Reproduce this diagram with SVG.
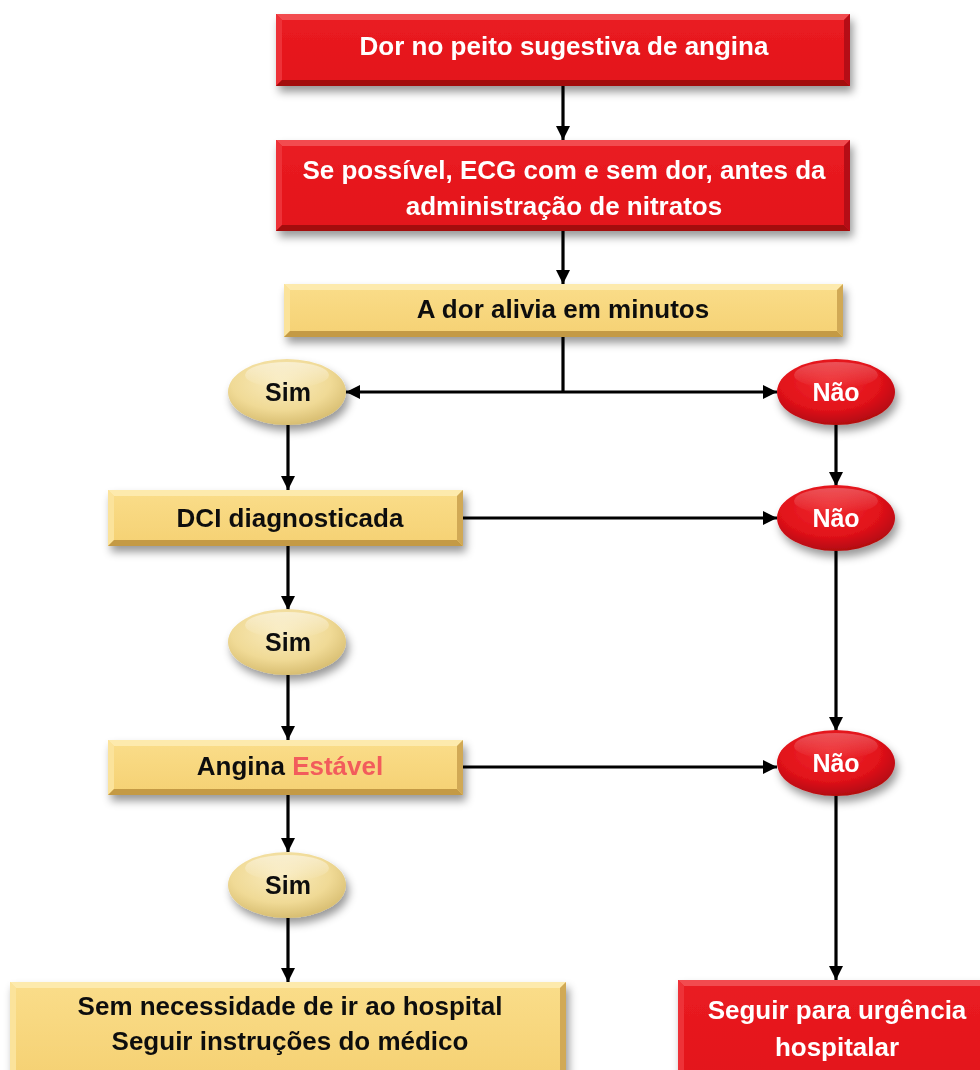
<svg xmlns="http://www.w3.org/2000/svg" width="980" height="1070" viewBox="0 0 980 1070">
  <defs>
    <style>
      .txt { font-family: "Liberation Sans", Arial, sans-serif; font-weight: bold; text-anchor: middle; dominant-baseline: central; }
      .w { fill: #ffffff; font-size: 26px; }
      .k { fill: #111111; font-size: 26px; }
      .ek { fill: #111111; font-size: 25px; }
      .ew { fill: #ffffff; font-size: 25px; }
      .hl { fill: #f25c5c; }
      .red-face { fill: url(#redFace); }
      .red-top { fill: #f24b50; }
      .red-left { fill: #ee3237; }
      .red-bot { fill: #a30a0e; }
      .red-right { fill: #b50d12; }
      .yel-face { fill: url(#yelFace); }
      .yel-top { fill: #fdeaad; }
      .yel-left { fill: #fbe39b; }
      .yel-bot { fill: #c49a45; }
      .yel-right { fill: #d1a954; }
      .conn line { stroke: #000; stroke-width: 3.2; fill: none; }
      .arr { marker-end: url(#head); }
    </style>
    <linearGradient id="redFace" x1="0" y1="0" x2="0" y2="1">
      <stop offset="0" stop-color="#ea1c22"/>
      <stop offset="1" stop-color="#e3141a"/>
    </linearGradient>
    <linearGradient id="yelFace" x1="0" y1="0" x2="0" y2="1">
      <stop offset="0" stop-color="#fadd8a"/>
      <stop offset="1" stop-color="#f5d173"/>
    </linearGradient>
    <radialGradient id="simFill" cx="0.45" cy="0.35" r="0.7">
      <stop offset="0" stop-color="#f9ebbd"/>
      <stop offset="0.6" stop-color="#f0da96"/>
      <stop offset="1" stop-color="#d3b86a"/>
    </radialGradient>
    <radialGradient id="naoFill" cx="0.45" cy="0.35" r="0.7">
      <stop offset="0" stop-color="#ef2a2e"/>
      <stop offset="0.6" stop-color="#e2121a"/>
      <stop offset="1" stop-color="#a80a0e"/>
    </radialGradient>
    <linearGradient id="gloss" x1="0" y1="0" x2="0" y2="1">
      <stop offset="0" stop-color="#ffffff" stop-opacity="0.5"/>
      <stop offset="1" stop-color="#ffffff" stop-opacity="0"/>
    </linearGradient>
    <filter id="shadow" x="-10%" y="-20%" width="125%" height="160%">
      <feDropShadow dx="3" dy="6" stdDeviation="4" flood-color="#000" flood-opacity="0.4"/>
    </filter>
    <marker id="head" viewBox="0 0 14 14" refX="14" refY="7" markerWidth="14" markerHeight="14" markerUnits="userSpaceOnUse" orient="auto">
      <path d="M0,0 L14,7 L0,14 Z" fill="#000"/>
    </marker>
  </defs>

  <rect width="980" height="1070" fill="#ffffff"/>

  <!-- connectors -->
  <g id="connectors" class="conn">
    <line class="arr" x1="563" y1="86" x2="563" y2="140"/>
    <line class="arr" x1="563" y1="231" x2="563" y2="284"/>
    <line x1="563" y1="337" x2="563" y2="392"/>
    <line class="arr" x1="563" y1="392" x2="346" y2="392"/>
    <line class="arr" x1="563" y1="392" x2="777" y2="392"/>
    <line class="arr" x1="288" y1="425" x2="288" y2="490"/>
    <line class="arr" x1="836" y1="425" x2="836" y2="486"/>
    <line class="arr" x1="463" y1="518" x2="777" y2="518"/>
    <line class="arr" x1="288" y1="546" x2="288" y2="610"/>
    <line class="arr" x1="288" y1="675" x2="288" y2="740"/>
    <line class="arr" x1="836" y1="551" x2="836" y2="731"/>
    <line class="arr" x1="463" y1="767" x2="777" y2="767"/>
    <line class="arr" x1="288" y1="795" x2="288" y2="852"/>
    <line class="arr" x1="288" y1="918" x2="288" y2="982"/>
    <line class="arr" x1="836" y1="796" x2="836" y2="980"/>
  </g>

  <!-- red box: chest pain -->
  <g id="n-dor" filter="url(#shadow)">
    <rect class="red-face" x="276" y="14" width="574" height="72"/>
    <polygon class="red-top" points="276,14 850,14 844,20 282,20"/>
    <polygon class="red-left" points="276,14 282,20 282,80 276,86"/>
    <polygon class="red-bot" points="276,86 282,80 844,80 850,86"/>
    <polygon class="red-right" points="850,14 850,86 844,80 844,20"/>
    <text class="txt w" x="564" y="46">Dor no peito sugestiva de angina</text>
  </g>

  <!-- red box: ECG -->
  <g id="n-ecg" filter="url(#shadow)">
    <rect class="red-face" x="276" y="140" width="574" height="91"/>
    <polygon class="red-top" points="276,140 850,140 844,146 282,146"/>
    <polygon class="red-left" points="276,140 282,146 282,225 276,231"/>
    <polygon class="red-bot" points="276,231 282,225 844,225 850,231"/>
    <polygon class="red-right" points="850,140 850,231 844,225 844,146"/>
    <text class="txt w" x="564" y="170">Se possível, ECG com e sem dor, antes da</text>
    <text class="txt w" x="564" y="206">administração de nitratos</text>
  </g>

  <!-- yellow box: relief -->
  <g id="n-alivia" filter="url(#shadow)">
    <rect class="yel-face" x="284" y="284" width="559" height="53"/>
    <polygon class="yel-top" points="284,284 843,284 837,290 290,290"/>
    <polygon class="yel-left" points="284,284 290,290 290,331 284,337"/>
    <polygon class="yel-bot" points="284,337 290,331 837,331 843,337"/>
    <polygon class="yel-right" points="843,284 843,337 837,331 837,290"/>
    <text class="txt k" x="563" y="309">A dor alivia em minutos</text>
  </g>

  <!-- decision ovals -->
  <g id="n-sim1" filter="url(#shadow)">
    <ellipse cx="287" cy="392" rx="59" ry="33" fill="url(#simFill)"/>
    <ellipse cx="287" cy="375" rx="42" ry="13" fill="url(#gloss)"/>
    <text class="txt ek" x="288" y="392">Sim</text>
  </g>
  <g id="n-nao1" filter="url(#shadow)">
    <ellipse cx="836" cy="392" rx="59" ry="33" fill="url(#naoFill)"/>
    <ellipse cx="836" cy="375" rx="42" ry="13" fill="url(#gloss)" opacity="0.5"/>
    <text class="txt ew" x="836" y="392">Não</text>
  </g>

  <!-- yellow box: known CAD -->
  <g id="n-dci" filter="url(#shadow)">
    <rect class="yel-face" x="108" y="490" width="355" height="56"/>
    <polygon class="yel-top" points="108,490 463,490 457,496 114,496"/>
    <polygon class="yel-left" points="108,490 114,496 114,540 108,546"/>
    <polygon class="yel-bot" points="108,546 114,540 457,540 463,546"/>
    <polygon class="yel-right" points="463,490 463,546 457,540 457,496"/>
    <text class="txt k" x="290" y="518">DCI diagnosticada</text>
  </g>

  <g id="n-nao2" filter="url(#shadow)">
    <ellipse cx="836" cy="518" rx="59" ry="33" fill="url(#naoFill)"/>
    <ellipse cx="836" cy="501" rx="42" ry="13" fill="url(#gloss)" opacity="0.5"/>
    <text class="txt ew" x="836" y="518">Não</text>
  </g>

  <g id="n-sim2" filter="url(#shadow)">
    <ellipse cx="287" cy="642" rx="59" ry="33" fill="url(#simFill)"/>
    <ellipse cx="287" cy="625" rx="42" ry="13" fill="url(#gloss)"/>
    <text class="txt ek" x="288" y="642">Sim</text>
  </g>

  <!-- yellow box: stable angina -->
  <g id="n-angina" filter="url(#shadow)">
    <rect class="yel-face" x="108" y="740" width="355" height="55"/>
    <polygon class="yel-top" points="108,740 463,740 457,746 114,746"/>
    <polygon class="yel-left" points="108,740 114,746 114,789 108,795"/>
    <polygon class="yel-bot" points="108,795 114,789 457,789 463,795"/>
    <polygon class="yel-right" points="463,740 463,795 457,789 457,746"/>
    <text class="txt k" x="290" y="766">Angina <tspan class="hl">Estável</tspan></text>
  </g>

  <g id="n-nao3" filter="url(#shadow)">
    <ellipse cx="836" cy="763" rx="59" ry="33" fill="url(#naoFill)"/>
    <ellipse cx="836" cy="746" rx="42" ry="13" fill="url(#gloss)" opacity="0.5"/>
    <text class="txt ew" x="836" y="763">Não</text>
  </g>

  <g id="n-sim3" filter="url(#shadow)">
    <ellipse cx="287" cy="885" rx="59" ry="33" fill="url(#simFill)"/>
    <ellipse cx="287" cy="868" rx="42" ry="13" fill="url(#gloss)"/>
    <text class="txt ek" x="288" y="885">Sim</text>
  </g>

  <!-- outcome: stay home -->
  <g id="n-casa" filter="url(#shadow)">
    <rect class="yel-face" x="10" y="982" width="556" height="96"/>
    <polygon class="yel-top" points="10,982 566,982 560,988 16,988"/>
    <polygon class="yel-left" points="10,982 16,988 16,1072 10,1078"/>
    <polygon class="yel-right" points="566,982 566,1078 560,1072 560,988"/>
    <text class="txt k" x="290" y="1006">Sem necessidade de ir ao hospital</text>
    <text class="txt k" x="290" y="1041">Seguir instruções do médico</text>
  </g>

  <!-- outcome: emergency -->
  <g id="n-urgencia" filter="url(#shadow)">
    <rect class="red-face" x="678" y="980" width="312" height="98"/>
    <polygon class="red-top" points="678,980 990,980 984,986 684,986"/>
    <polygon class="red-left" points="678,980 684,986 684,1072 678,1078"/>
    <text class="txt w" x="837" y="1010">Seguir para urgência</text>
    <text class="txt w" x="837" y="1047">hospitalar</text>
  </g>
</svg>
